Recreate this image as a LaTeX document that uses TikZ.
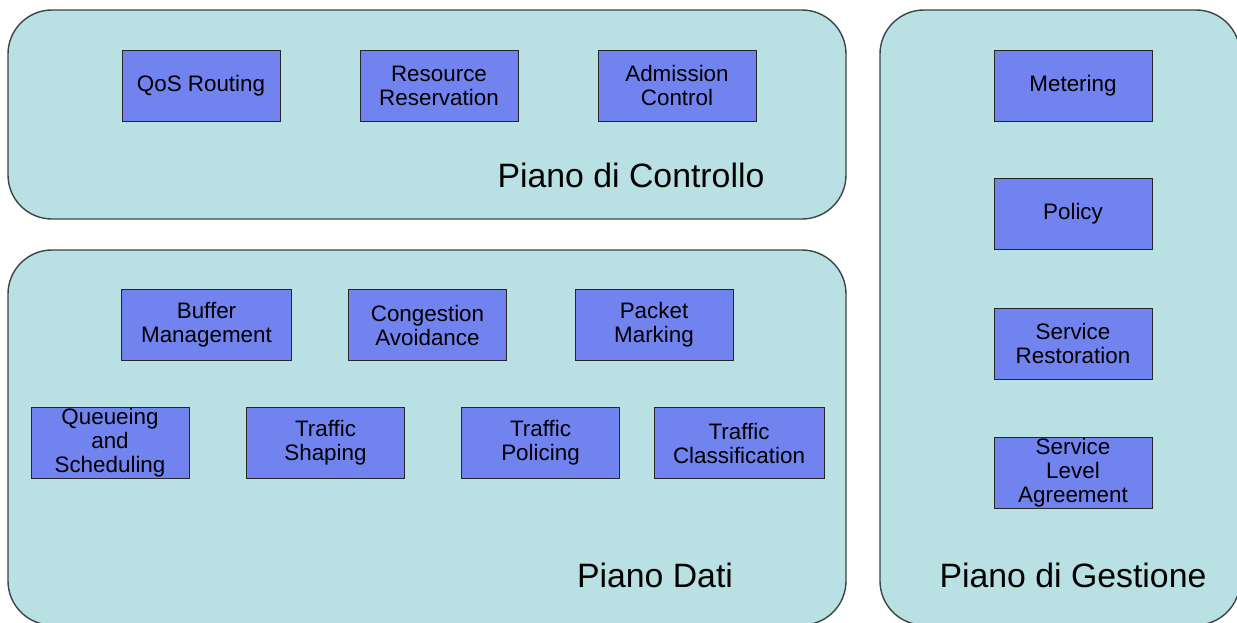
\documentclass[tikz,border=0pt]{standalone}
\usepackage{fontspec}
\setmainfont{Liberation Sans}
\usetikzlibrary{positioning}
\definecolor{planefill}{RGB}{185,224,227}
\definecolor{blockfill}{RGB}{112,131,238}
\definecolor{planeline}{RGB}{60,70,70}

\tikzset{
  plane/.style={draw=planeline, fill=planefill, line width=0.7pt, rounded corners=22pt},
  block/.style={draw=black!85, fill=blockfill, line width=0.5pt,
    minimum width=79pt, minimum height=35.5pt, inner sep=0pt,
    align=center, font=\fontsize{11.2}{12}\selectfont},
  wideblock/.style={block, minimum width=85pt},
  planetitle/.style={font=\fontsize{16.9}{18}\selectfont}
}

\begin{document}
\begin{tikzpicture}[x=0.5pt, y=-0.5pt]
  \useasboundingbox (0,0) rectangle (1237,622);
  \clip (0,0) rectangle (1237,622);

  % the three planes
  \draw[plane] (8,10) rectangle (846,219);
  \draw[plane] (8,250) rectangle (846,625);
  \draw[plane] (880,10) rectangle (1240,625);

  % control plane
  \node[block] (qosrouting) at (201,85.5) {QoS Routing};
  \node[block] (reservation) at (439,85.5) {Resource\\Reservation};
  \node[block] (admission) at (677,85.5) {Admission\\Control};
  \node[planetitle] (controltitle) at (631,175) {Piano di Controllo};

  % data plane
  \node[wideblock] (buffer) at (206.5,325) {Buffer\\Management};
  \node[block] (congestion) at (427.5,325) {Congestion\\Avoidance};
  \node[block] (marking) at (654,325) {Packet\\Marking};
  \node[block] (queueing) at (110,443) {Queueing\\and\\Scheduling};
  \node[block] (shaping) at (325.5,443) {Traffic\\Shaping};
  \node[block] (policing) at (540.5,443) {Traffic\\Policing};
  \node[wideblock] (classification) at (739,443) {Traffic\\Classification};
  \node[planetitle] (datatitle) at (655,575) {Piano Dati};

  % management plane
  \node[block] (metering) at (1073,85.5) {Metering};
  \node[block] (policy) at (1073,213.5) {Policy};
  \node[block] (restoration) at (1073,343.5) {Service\\Restoration};
  \node[block] (sla) at (1073,473) {Service\\Level\\Agreement};
  \node[planetitle] (mgmttitle) at (1073,575) {Piano di Gestione};
\end{tikzpicture}
\end{document}
